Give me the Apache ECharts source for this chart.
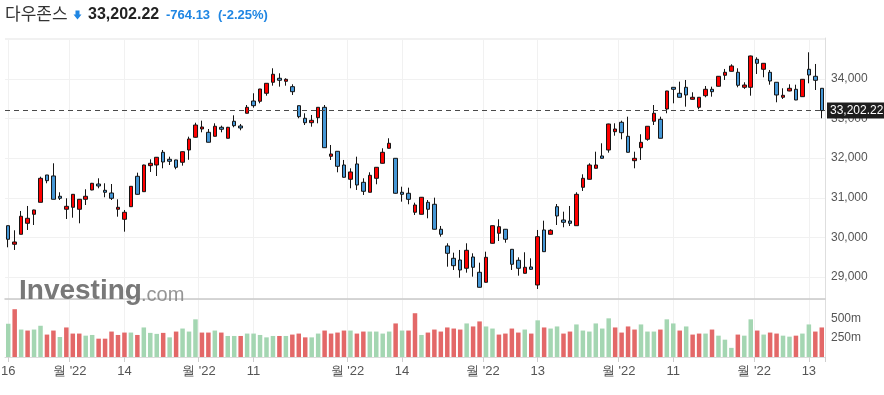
<!DOCTYPE html>
<html>
<head>
<meta charset="utf-8">
<script src="https://cdn.jsdelivr.net/npm/echarts@6/dist/echarts.min.js"></script>
<style>
html,body{margin:0;padding:0;background:#fff;}
#chart{width:884px;height:395px;}
</style>
</head>
<body>
<div id="chart"></div>
<script>
const categories = [
'06/16','06/17','06/21','06/22','06/23','06/24','06/27','06/28','06/29','06/30',
'07/01','07/05','07/06','07/07','07/08','07/11','07/12','07/13','07/14','07/15',
'07/18','07/19','07/20','07/21','07/22','07/25','07/26','07/27','07/28','07/29',
'08/01','08/02','08/03','08/04','08/05','08/08','08/09','08/10','08/11','08/12',
'08/15','08/16','08/17','08/18','08/19','08/22','08/23','08/24','08/25','08/26',
'08/29','08/30','08/31','09/01','09/02','09/06','09/07','09/08','09/09','09/12',
'09/13','09/14','09/15','09/16','09/19','09/20','09/21','09/22','09/23','09/26',
'09/27','09/28','09/29','09/30','10/03','10/04','10/05','10/06','10/07','10/10',
'10/11','10/12','10/13','10/14','10/17','10/18','10/19','10/20','10/21','10/24',
'10/25','10/26','10/27','10/28','10/31','11/01','11/02','11/03','11/04','11/07',
'11/08','11/09','11/10','11/11','11/14','11/15','11/16','11/17','11/18','11/21',
'11/22','11/23','11/25','11/28','11/29','11/30','12/01','12/02','12/05','12/06',
'12/07','12/08','12/09','12/12','12/13','12/14','12/15'];

const opens = [
30295,29826,30078,30356,30583,30886,31576,31551,31038,30710,
30760,30710,30962,31197,31348,31189,31121,30710,30457,30775,
31543,31154,31811,31828,32149,31972,31955,31897,32207,32528,
32737,32654,32553,32780,32503,32932,32813,33134,33444,33437,
33639,33917,34018,33942,33806,33326,33008,32896,33023,33285,
32048,32174,31828,31467,31854,31391,31139,31492,31871,32250,
31997,31139,31114,30634,30583,30886,30836,30205,29783,29472,
29429,29220,29505,29119,28866,29851,30104,30205,29699,29422,
29093,29253,28798,30187,30078,30775,30439,30414,30295,31265,
31467,31745,32056,32207,32669,32907,32553,31937,32265,32477,
32932,32982,33242,33790,33639,33790,33487,33285,33578,33740,
33816,34093,34194,34169,33790,33790,34497,34245,34169,33917,
33538,33697,33740,33553,34245,34068,33765];

const closes = [
29952,29884,30533,30482,30692,31492,31432,30962,30987,30785,
31088,30962,31038,31366,31298,31139,30987,30760,30634,31290,
31088,31828,31871,32023,31904,31922,31770,32164,32485,32838,
32788,32402,32806,32730,32780,32821,32763,33285,33326,33747,
33891,34119,33967,33992,33679,33048,32896,32957,33285,32265,
32106,31795,31518,31652,31323,31164,31568,31770,32149,32376,
31114,31088,30962,30818,31013,30710,30205,30078,29598,29285,
29177,29674,29245,28740,29497,30295,30270,29952,29321,29220,
29245,29194,30018,29639,30179,30540,30381,30356,31088,31492,
31828,31828,31997,32864,32737,32644,32149,31997,32401,32806,
33134,32503,33697,33740,33538,33596,33538,33538,33740,33679,
34068,34169,34328,33841,33848,34581,34396,34396,33949,33596,
33588,33765,33470,33992,34101,33967,33202.22];

const lows = [
29750,29682,30078,30187,30313,30886,31366,30962,30944,30465,
30497,30356,30818,31190,31240,31013,30944,30523,30144,30770,
31080,31150,31652,31550,31745,31828,31720,31811,31960,32520,
32654,32400,32550,32654,32500,32780,32705,33130,33275,33386,
33578,33831,33806,33831,33596,33008,32838,32795,32881,32260,
31955,31644,31510,31240,31197,31071,31135,31341,31865,32245,
31105,30902,30836,30566,30580,30482,30200,30018,29260,29177,
28982,29109,29008,28735,28860,29845,29909,29866,29177,29033,
29088,29177,28697,29635,30075,30313,30255,30288,30290,31172,
31460,31740,31990,32139,32568,32477,32145,31745,31955,32440,
32838,32500,33134,33386,33535,33301,33480,33235,33538,33553,
33810,33975,34190,33790,33750,33578,34126,34043,33856,33412,
33495,33690,33465,33548,33891,33722,33008];

const highs = [
30300,30179,30667,30793,30700,31533,31576,31871,31139,30987,
31095,30970,31215,31375,31492,31366,31348,30962,30692,31295,
31634,31835,31972,32030,32207,32038,31960,32170,32543,32896,
32947,32737,32881,32821,32790,33083,32864,33343,33639,33750,
33895,34270,34144,34018,33866,33330,33134,33091,33290,33343,
32333,32180,31955,31745,32038,31492,31644,31775,32250,32503,
32000,31280,31255,30876,31020,30944,31003,30288,29851,29614,
29682,29851,29598,29361,29639,30300,30457,30210,29705,29497,
29624,29472,30187,30422,30205,30843,30649,30793,31139,31593,
31871,32164,32376,32870,32881,32947,33048,32164,32604,32810,
33343,33048,33700,33795,33932,33975,33664,33545,33823,33806,
34075,34253,34371,34270,33917,34590,34548,34400,34227,33920,
33765,33866,33856,34000,34674,34379,33770];

// volume in millions
const volumes = [
430,618,355,342,355,404,290,342,259,382,
303,303,276,285,237,237,329,285,316,316,
285,382,312,299,312,254,329,368,329,487,
316,316,342,316,272,272,272,303,303,285,
254,272,272,272,290,303,254,254,303,342,
303,316,342,342,303,329,329,329,303,329,
434,342,342,566,285,316,355,329,382,368,
355,434,395,460,395,368,290,303,368,316,
355,303,474,382,368,395,303,329,421,342,
329,434,368,500,382,316,395,355,421,329,
329,355,487,434,342,395,290,303,303,355,
276,224,118,290,276,487,342,290,316,303,
276,263,276,303,421,329,382];

const volumeSides = [
'g','r','g','r','g','g','r','r','g','r',
'r','r','g','g','r','r','r','r','r','g',
'r','g','g','g','r','g','r','g','g','g',
'r','r','g','r','g','g','r','g','g','g',
'g','g','r','g','r','r','r','g','g','r',
'r','r','r','g','r','r','g','g','g','g',
'r','g','r','r','g','r','r','r','r','r',
'r','g','r','r','g','g','r','r','r','r',
'g','r','g','r','g','g','r','r','g','g',
'g','g','g','g','r','r','r','r','g','g',
'g','r','g','g','r','g','r','r','g','r',
'g','g','g','r','g','g','r','g','r','r',
'g','g','r','g','g','r','r'];

const monthTickDates = ['07/01','08/01','09/01','10/03','11/01','12/01'];
const monthTickLabel = "월 '22";
const dayTickDates = ['06/16','07/14','08/11','09/14','10/13','11/11','12/13'];
const dayTickLabels = ['16','14','11','14','13','11','13'];
const priceLabelMax = 34000;

const titleName = '다우존스';
const lastPrice = 33202.22;
const lastPriceText = '33,202.22';
const changeText = '-764.13';
const changePctText = '(-2.25%)';

const candleData = categories.map((c, i) => [opens[i], closes[i], lows[i], highs[i]]);
const volColors = {g: '#a4d6b2', r: '#e36868'};
const volData = volumes.map((v, i) => ({value: v, itemStyle: {color: volColors[volumeSides[i]]}}));

const isMonth = (idx, val) => monthTickDates.indexOf(val) >= 0;
const isDay = (idx, val) => dayTickDates.indexOf(val) >= 0;

const gridLineColor = '#f1f1f1';
const labelColor = '#555';
const axisFont = "'Liberation Sans', Arial, sans-serif";
const narrowFont = "'Liberation Sans Narrow', 'Arial Narrow', 'Liberation Sans', sans-serif";

const chart = echarts.init(document.getElementById('chart'), null, {renderer: 'canvas'});

const option = {
  animation: false,
  backgroundColor: '#fff',
  grid: [
    {left: 5, right: 59, top: 38, height: 261, containLabel: false, outerBoundsMode: 'none'},
    {left: 5, right: 59, top: 299, height: 58, containLabel: false, outerBoundsMode: 'none'}
  ],
  xAxis: [
    {type: 'category', gridIndex: 0, data: categories, position: 'bottom', boundaryGap: true,
     axisLine: {show: true, onZero: false, lineStyle: {color: '#c9c9c9', width: 1.5}},
     axisTick: {show: false}, axisLabel: {show: false},
     splitLine: {show: true, interval: isMonth, lineStyle: {color: gridLineColor}}},
    {type: 'category', gridIndex: 0, data: categories, position: 'bottom', boundaryGap: true,
     axisLine: {show: false}, axisTick: {show: false}, axisLabel: {show: false},
     splitLine: {show: true, interval: isDay, alignWithLabel: true, lineStyle: {color: gridLineColor}}},
    {type: 'category', gridIndex: 1, data: categories, position: 'bottom', boundaryGap: true,
     axisLine: {show: true, onZero: false, lineStyle: {color: '#dcdcdc'}},
     axisTick: {show: true, interval: isMonth, length: 5, lineStyle: {color: '#cfcfcf'}},
     axisLabel: {show: true, interval: isMonth, margin: 8, color: labelColor, fontSize: 13,
       fontFamily: narrowFont,
       formatter: () => '{m|' + monthTickLabel + '}',
       rich: {m: {padding: [0, 6, 0, 0], color: labelColor, fontSize: 13, fontFamily: narrowFont}}},
     splitLine: {show: true, interval: isMonth, lineStyle: {color: gridLineColor}}},
    {type: 'category', gridIndex: 1, data: categories, position: 'bottom', boundaryGap: true,
     axisLine: {show: false},
     axisTick: {show: true, interval: isDay, alignWithLabel: true, length: 5, lineStyle: {color: '#cfcfcf'}},
     axisLabel: {show: true, interval: isDay, margin: 8, color: labelColor, fontSize: 13,
       fontFamily: narrowFont,
       formatter: (val) => dayTickLabels[dayTickDates.indexOf(val)]},
     splitLine: {show: true, interval: isDay, alignWithLabel: true, lineStyle: {color: gridLineColor}}}
  ],
  yAxis: [
    {type: 'value', gridIndex: 0, position: 'right', scale: true,
     min: 28444, max: 35035, splitNumber: 7, minInterval: 1000, maxInterval: 1000,
     axisLine: {show: true, lineStyle: {color: '#dedede'}},
     axisTick: {show: false},
     axisLabel: {show: true, margin: 6, color: labelColor, fontSize: 12, fontFamily: axisFont,
       showMinLabel: false, showMaxLabel: false,
       formatter: (v) => (v > priceLabelMax ? '' : v.toLocaleString('en-US'))},
     splitLine: {show: true, lineStyle: {color: gridLineColor}}},
    {type: 'value', gridIndex: 1, position: 'right',
     min: 0, max: 750, interval: 250,
     axisLine: {show: true, lineStyle: {color: '#dedede'}},
     axisTick: {show: false},
     axisLabel: {show: true, margin: 6, color: labelColor, fontSize: 12, fontFamily: axisFont,
       showMinLabel: false, showMaxLabel: false,
       formatter: (v) => v + 'm'},
     splitLine: {show: false}}
  ],
  series: [
    {type: 'candlestick', xAxisIndex: 0, yAxisIndex: 0, data: candleData, barWidth: 4,
     itemStyle: {color: '#ff0000', color0: '#4597d6', borderColor: '#151515', borderColor0: '#151515', borderWidth: 1},
     markLine: {silent: true, symbol: ['none', 'none'], animation: false,
       data: [{yAxis: lastPrice}],
       lineStyle: {color: '#4a4a4a', type: [5, 4], width: 1.2},
       label: {show: true, position: 'end', distance: 2, formatter: lastPriceText,
         backgroundColor: '#1e1e1e', color: '#fff', fontSize: 12, fontFamily: axisFont, padding: [2, 4, 2, 3]}}},
    {type: 'bar', xAxisIndex: 2, yAxisIndex: 1, data: volData, barWidth: 4.5}
  ],
  graphic: [
    {type: 'text', left: 5, top: 5, style: {text: titleName, fontSize: 17, fontFamily: "'Noto Sans CJK KR', sans-serif", fill: '#333'}},
    {type: 'polygon', shape: {points: [[75.5, 10.5], [79.5, 10.5], [79.5, 14.5], [81.5, 14.5], [77.5, 19.5], [73.5, 14.5], [75.5, 14.5]]},
     style: {fill: '#1f86e3'}},
    {type: 'text', left: 88, top: 7, style: {text: lastPriceText, fontSize: 16, fontWeight: 'bold', fontFamily: axisFont, fill: '#222'}},
    {type: 'text', left: 166, top: 9, style: {text: changeText, fontSize: 13, fontWeight: 'bold', fontFamily: axisFont, fill: '#1f86e3'}},
    {type: 'text', left: 218, top: 9, style: {text: changePctText, fontSize: 13, fontWeight: 'bold', fontFamily: axisFont, fill: '#1f86e3'}},
    {type: 'text', left: 19, top: 277, z: 1, style: {text: 'Investing', fontSize: 28, fontWeight: 'bold', fontFamily: axisFont, fill: 'rgba(105,105,105,0.9)'}},
    {type: 'text', left: 141, top: 285, z: 1, style: {text: '.com', fontSize: 20, fontFamily: axisFont, fill: 'rgba(130,130,130,0.85)'}}
  ]
};
chart.setOption(option);
</script>
</body>
</html>
